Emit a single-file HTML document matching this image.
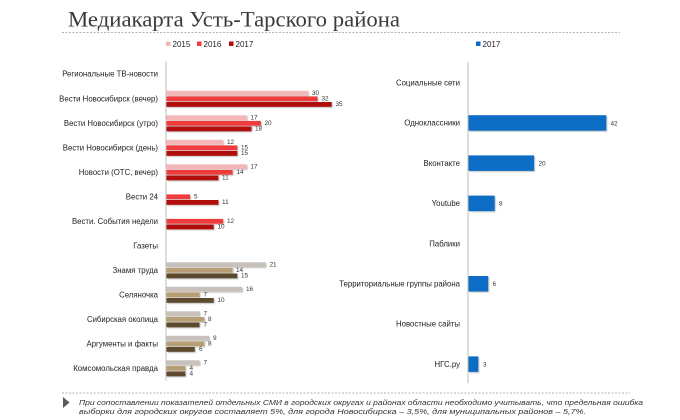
<!DOCTYPE html>
<html><head><meta charset="utf-8">
<style>
html,body{margin:0;padding:0;background:#fff;}
svg{display:block;}
.lbl{font-family:"Liberation Sans","DejaVu Sans",sans-serif;font-size:7.8px;fill:#222;}
.val{font-family:"Liberation Sans","DejaVu Sans",sans-serif;font-size:6.4px;fill:#333;}
.leg{font-family:"Liberation Sans","DejaVu Sans",sans-serif;font-size:8px;fill:#222;}
</style></head>
<body>
<svg width="680" height="420" viewBox="0 0 680 420" xmlns="http://www.w3.org/2000/svg">
<defs>
<filter id="sh" x="-5%" y="-20%" width="115%" height="160%">
<feDropShadow dx="1" dy="1" stdDeviation="0.6" flood-color="#000" flood-opacity="0.25"/>
</filter>
</defs>
<text x="68" y="26.5" font-family="'Liberation Serif','DejaVu Serif',serif" font-size="22" fill="#3a3a3a" textLength="332" lengthAdjust="spacingAndGlyphs">Медиакарта Усть-Тарского района</text>
<line x1="62" y1="32.5" x2="620" y2="32.5" stroke="#9a9a9a" stroke-width="0.8" stroke-dasharray="2,1.5"/>

<!-- left legend -->
<rect x="166" y="41.5" width="4.5" height="4.5" fill="#f4b6b6"/>
<text class="leg" x="172.5" y="47">2015</text>
<rect x="197" y="41.5" width="4.5" height="4.5" fill="#ee3b3b"/>
<text class="leg" x="203.5" y="47">2016</text>
<rect x="229" y="41.5" width="4.5" height="4.5" fill="#b00a0a"/>
<text class="leg" x="235.5" y="47">2017</text>

<!-- right legend -->
<rect x="476" y="41.5" width="4.5" height="4.5" fill="#0e6cc4"/>
<text class="leg" x="482.5" y="47">2017</text>

<!-- left axis -->
<line x1="166" y1="61.5" x2="166" y2="380.5" stroke="#bdbdbd" stroke-width="1"/>

<g class="lbl" text-anchor="end">
<text x="158" y="76.7">Региональные ТВ-новости</text>
<text x="158" y="101.7">Вести Новосибирск (вечер)</text>
<text x="158" y="126.2">Вести Новосибирск (утро)</text>
<text x="158" y="150.7">Вести Новосибирск (день)</text>
<text x="158" y="175.2">Новости (ОТС, вечер)</text>
<text x="158" y="199.7">Вести 24</text>
<text x="158" y="224.2">Вести. События недели</text>
<text x="158" y="248.7">Газеты</text>
<text x="158" y="273.2">Знамя труда</text>
<text x="158" y="297.7">Селяночка</text>
<text x="158" y="322.2">Сибирская околица</text>
<text x="158" y="346.7">Аргументы и факты</text>
<text x="158" y="371.2">Комсомольская правда</text>
</g>

<g filter="url(#sh)">
<rect x="166.5" y="90.8" width="141.6" height="4.8" fill="#f4b6b6"/>
<rect x="166.5" y="96.4" width="151" height="4.8" fill="#ee3b3b"/>
<rect x="166.5" y="102" width="165.2" height="4.8" fill="#b00a0a"/>
<rect x="166.5" y="115.3" width="80.2" height="4.8" fill="#f4b6b6"/>
<rect x="166.5" y="120.9" width="94.4" height="4.8" fill="#ee3b3b"/>
<rect x="166.5" y="126.5" width="85" height="4.8" fill="#b00a0a"/>
<rect x="166.5" y="139.8" width="56.6" height="4.8" fill="#f4b6b6"/>
<rect x="166.5" y="145.4" width="70.8" height="4.8" fill="#ee3b3b"/>
<rect x="166.5" y="151" width="70.8" height="4.8" fill="#b00a0a"/>
<rect x="166.5" y="164.3" width="80.2" height="4.8" fill="#f4b6b6"/>
<rect x="166.5" y="169.9" width="66.1" height="4.8" fill="#ee3b3b"/>
<rect x="166.5" y="175.5" width="51.9" height="4.8" fill="#b00a0a"/>
<rect x="166.5" y="194.4" width="23.6" height="4.8" fill="#ee3b3b"/>
<rect x="166.5" y="200" width="51.9" height="4.8" fill="#b00a0a"/>
<rect x="166.5" y="218.9" width="56.6" height="4.8" fill="#ee3b3b"/>
<rect x="166.5" y="224.5" width="47.2" height="4.8" fill="#b00a0a"/>
<rect x="166.5" y="262.3" width="99.1" height="4.8" fill="#c8c0bb"/>
<rect x="166.5" y="267.9" width="66.1" height="4.8" fill="#b89e74"/>
<rect x="166.5" y="273.5" width="70.8" height="4.8" fill="#5c4a2e"/>
<rect x="166.5" y="286.8" width="75.5" height="4.8" fill="#c8c0bb"/>
<rect x="166.5" y="292.4" width="33" height="4.8" fill="#b89e74"/>
<rect x="166.5" y="298" width="47.2" height="4.8" fill="#5c4a2e"/>
<rect x="166.5" y="311.3" width="33" height="4.8" fill="#c8c0bb"/>
<rect x="166.5" y="316.9" width="37.8" height="4.8" fill="#b89e74"/>
<rect x="166.5" y="322.5" width="33" height="4.8" fill="#5c4a2e"/>
<rect x="166.5" y="335.8" width="42.5" height="4.8" fill="#c8c0bb"/>
<rect x="166.5" y="341.4" width="37.8" height="4.8" fill="#b89e74"/>
<rect x="166.5" y="347" width="28.3" height="4.8" fill="#5c4a2e"/>
<rect x="166.5" y="360.3" width="33" height="4.8" fill="#c8c0bb"/>
<rect x="166.5" y="365.9" width="18.9" height="4.8" fill="#b89e74"/>
<rect x="166.5" y="371.5" width="18.9" height="4.8" fill="#5c4a2e"/>
</g>

<g class="val">
<text x="312" y="95">30</text><text x="321.5" y="100.6">32</text><text x="335.5" y="106.2">35</text>
<text x="250.5" y="119.5">17</text><text x="264.5" y="125.1">20</text><text x="255" y="130.7">18</text>
<text x="227" y="144">12</text><text x="241" y="149.6">15</text><text x="241" y="155.2">15</text>
<text x="250.5" y="168.5">17</text><text x="236.5" y="174.1">14</text><text x="222" y="179.7">11</text>
<text x="194" y="198.6">5</text><text x="222" y="204.2">11</text>
<text x="227" y="223.1">12</text><text x="217.5" y="228.7">10</text>
<text x="269.5" y="266.5">21</text><text x="236" y="272.1">14</text><text x="241" y="277.7">15</text>
<text x="246" y="291">16</text><text x="203.5" y="296.6">7</text><text x="217.5" y="302.2">10</text>
<text x="203.5" y="315.5">7</text><text x="208" y="321.1">8</text><text x="203.5" y="326.7">7</text>
<text x="213" y="340">9</text><text x="208" y="345.6">8</text><text x="199" y="351.2">6</text>
<text x="203.5" y="364.5">7</text><text x="189.5" y="370.1">4</text><text x="189.5" y="375.7">4</text>
</g>

<!-- right axis -->
<line x1="468" y1="62" x2="468" y2="383" stroke="#bdbdbd" stroke-width="1"/>
<g class="lbl" text-anchor="end">
<text x="460" y="85.5">Социальные сети</text>
<text x="460" y="125.7">Одноклассники</text>
<text x="460" y="165.9">Вконтакте</text>
<text x="460" y="206.1">Youtube</text>
<text x="460" y="246.3">Паблики</text>
<text x="460" y="286.5">Территориальные группы района</text>
<text x="460" y="326.7">Новостные сайты</text>
<text x="460" y="366.9">НГС.ру</text>
</g>
<g filter="url(#sh)" fill="#0e6cc4">
<rect x="468.5" y="115.2" width="137.8" height="15.5"/>
<rect x="468.5" y="155.4" width="65.6" height="15.5"/>
<rect x="468.5" y="195.6" width="26.2" height="15.5"/>
<rect x="468.5" y="276" width="19.7" height="15.5"/>
<rect x="468.5" y="356.4" width="9.8" height="15.5"/>
</g>
<g class="val">
<text x="610.5" y="125.3">42</text>
<text x="538.5" y="165.5">20</text>
<text x="499" y="205.7">8</text>
<text x="492.5" y="286.1">6</text>
<text x="483" y="366.5">3</text>
</g>

<!-- footer -->
<line x1="62" y1="393" x2="630" y2="393" stroke="#9a9a9a" stroke-width="0.8" stroke-dasharray="2,1.5"/>
<polygon points="63,397 69.5,402.5 63,408" fill="#5a5a5a"/>
<g font-family="'Liberation Sans','DejaVu Sans',sans-serif" font-size="7.6" font-style="italic" fill="#333">
<text x="79" y="405" textLength="564" lengthAdjust="spacingAndGlyphs">При сопоставлении показателей отдельных СМИ в городских округах и районах области необходимо учитывать, что предельная ошибка</text>
<text x="79" y="414" textLength="507" lengthAdjust="spacingAndGlyphs">выборки для городских округов составляет 5%, для города Новосибирска – 3,5%, для муниципальных районов – 5,7%.</text>
</g>
</svg>
</body></html>
